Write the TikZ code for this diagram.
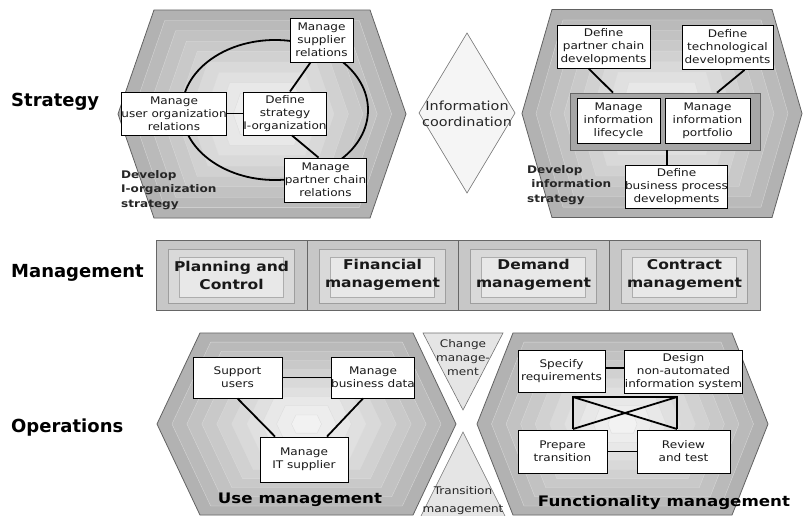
\documentclass[tikz,border=0pt]{standalone}
\usepackage{fontspec}
\setmainfont{DejaVu Sans}[FakeStretch=1.15]
\newfontfamily\labfont{DejaVu Sans}
\usetikzlibrary{calc}
\newcommand\hexp[5]{(#1-#3,#2-#5) -- (#1+#3,#2-#5) -- (#1+#4,#2) -- (#1+#3,#2+#5) -- (#1-#3,#2+#5) -- (#1-#4,#2) -- cycle}
\newcommand\shadehex[5]{%
  \foreach \s/\g in {1/30,0.9/27,0.8/24,0.7/21,0.6/18,0.5/15,0.4/12,0.3/9,0.2/7,0.1/5}{%
    \filldraw[fill=black!\g, draw=black!14, line width=0.3pt] \hexp{#1}{#2}{\s*#3}{\s*#4}{\s*#5};
  }%
  \draw[black!62, line width=0.8pt] \hexp{#1}{#2}{#3}{#4}{#5};
}
\begin{document}
\begin{tikzpicture}[x=1pt,y=-1pt,
  box/.style={draw=black, line width=0.9pt, fill=white, inner sep=0pt, align=center,
    text=black!90, font=\fontsize{10.5}{13}\selectfont},
  conn/.style={line width=1.8pt, black},
  lab/.style={anchor=west, inner sep=0pt, font=\labfont\bfseries\fontsize{18}{21}\selectfont},
  dev/.style={anchor=north west, inner sep=0pt, align=left, text=black!85,
    font=\bfseries\fontsize{10.5}{14.5}\selectfont},
  mcell/.style={draw=black!60, line width=0.7pt, minimum width=151, minimum height=70,
    inner sep=0pt, align=center, font=\bfseries\fontsize{13.5}{18}\selectfont, text=black!90},
  big/.style={inner sep=0pt, font=\bfseries\fontsize{14.5}{17}\selectfont},
  tri/.style={fill=black!10, draw=black!55, line width=0.6pt},
  small/.style={inner sep=0pt, align=center, text=black!85, font=\fontsize{10.5}{14}\selectfont}
]
\clip (0,0) rectangle (803,515);
\fill[white] (0,0) rectangle (803,515);

% ---------- row labels ----------
\node[lab] (lstr) at (11,102) {Strategy};
\node[lab] (lman) at (11,273) {Management};
\node[lab] (lops) at (11,428) {Operations};

% ---------- hexagons ----------
\shadehex{262}{114}{108}{144}{104}
\shadehex{662}{113.5}{110}{140}{104}
\shadehex{306.5}{424}{106.5}{149.5}{91}
\shadehex{622.5}{424}{109.5}{145.5}{91}

% ---------- Strategy left ----------
\draw[line width=1.8pt] (275,110) ellipse [x radius=93, y radius=70];
\node[box, minimum width=63, minimum height=44] (sup) at (321.5,40) {Manage\\supplier\\relations};
\node[box, minimum width=82, minimum height=43] (usr) at (174,113.5) {Manage\\user organization\\relations};
\node[box, minimum width=80, minimum height=43] (def) at (285,113.5) {Define\\strategy\\I-organization};
\node[box, minimum width=75, minimum height=44] (par) at (325.5,180) {Manage\\partner chain\\relations};
\draw[conn] (usr.east) -- (def.west);
\draw[conn] ([xshift=-11pt]sup.south) -- ([xshift=5pt]def.north);
\draw[conn] ([xshift=7pt]def.south) -- ([xshift=-7pt]par.north);
\node[dev] (devI) at (121,170) {Develop\\I-organization\\strategy};

% ---------- Information coordination ----------
\draw[fill=black!4, draw=black!55, line width=0.6pt] (467,33) -- (515,113) -- (467,193) -- (419,113) -- cycle;
\node[inner sep=0pt, align=center, text=black!85, font=\fontsize{12.5}{16}\selectfont] (info) at (467,114) {Information\\coordination};

% ---------- Strategy right ----------
\node[box, minimum width=93, minimum height=43] (pcd) at (603.5,46.5) {Define\\partner chain\\developments};
\node[box, minimum width=91, minimum height=44] (tec) at (727.5,47.5) {Define\\technological\\developments};
\node[draw=black!60, fill=black!35, line width=0.7pt, minimum width=190, minimum height=57, inner sep=0pt] (cont) at (665,121.5) {};
\node[box, minimum width=83, minimum height=45] (mil) at (618.5,120.5) {Manage\\information\\lifecycle};
\node[box, minimum width=85, minimum height=45] (mip) at (707.5,120.5) {Manage\\information\\portfolio};
\node[box, minimum width=97, minimum height=43] (bpd) at (676.5,186.5) {Define\\business process\\developments};
\draw[conn] ([xshift=-15pt]pcd.south) -- ([xshift=-52pt]cont.north);
\draw[conn] ([xshift=17pt]tec.south) -- ([xshift=52pt]cont.north);
\draw[conn] ([xshift=2pt]cont.south) -- ([xshift=2pt]cont.south |- bpd.north);
\node[dev] (devInf) at (527,165) {Develop\\\ information\\strategy};

% ---------- Management ----------
\foreach \cx in {231.5,382.5,533.5,684.5}{
  \fill[black!22] (\cx-75.5,240) rectangle (\cx+75.5,310);
  \filldraw[fill=black!15, draw=black!38, line width=0.4pt] (\cx-63,249) rectangle (\cx+63,303);
  \filldraw[fill=black!9, draw=black!32, line width=0.4pt] (\cx-52,257) rectangle (\cx+52,297);
}
\node[mcell] (m1) at (231.5,275) {Planning and\\Control};
\node[mcell] (m2) at (382.5,275) {Financial\\management};
\node[mcell] (m3) at (533.5,275) {Demand\\management};
\node[mcell] (m4) at (684.5,275) {Contract\\management};

% ---------- Change / Transition ----------
\draw[tri] (423,333) -- (503,333) -- (463,410) -- cycle;
\draw[tri] (463,432) -- (508,522) -- (418,522) -- cycle;
\node[small] (chg) at (463,358) {Change\\manage-\\ment};
\node[small, anchor=north, font=\fontsize{10.5}{18}\selectfont] (trn) at (463,486) {Transition\\management};

% ---------- Operations left ----------
\node[box, minimum width=89, minimum height=41] (sus) at (237.5,377.5) {Support\\users};
\node[box, minimum width=80, minimum height=41] (mbd) at (373,377.5) {Manage\\business data};
\node[box, minimum width=88, minimum height=45] (mit) at (304,459.5) {Manage\\IT supplier};
\draw[conn] (sus.east) -- (mbd.west);
\draw[conn] (sus.south) -- ([xshift=-29pt]mit.north);
\draw[conn] ([xshift=-10pt]mbd.south) -- ([xshift=23pt]mit.north);
\node[big] (usem) at (300,500) {Use management};

% ---------- Operations right ----------
\node[box, minimum width=87, minimum height=42] (spr) at (561.5,371) {Specify\\requirements};
\node[box, minimum width=93, minimum height=43] (dna) at (683.5,371.5) {Design\\non-automated\\information system};
\node[box, minimum width=89, minimum height=43] (prt) at (562.5,451.5) {Prepare\\transition};
\node[box, minimum width=93, minimum height=43] (rvt) at (683.5,451.5) {Review\\and test};
\draw[conn] ([yshift=3pt]spr.east) -- ([yshift=3pt]spr.east -| dna.west);
\draw[conn] (prt.east) -- (prt.east -| rvt.west);
\coordinate (b1) at (573,397);
\coordinate (b2) at (677,397);
\coordinate (b3) at (573,429);
\coordinate (b4) at (677,429);
\draw[conn] (b3) -- (b1) -- (b2) -- (b4);
\draw[conn] (b1) -- (b4);
\draw[conn] (b2) -- (b3);
\node[big] (func) at (664,503) {Functionality management};
\end{tikzpicture}
\end{document}
